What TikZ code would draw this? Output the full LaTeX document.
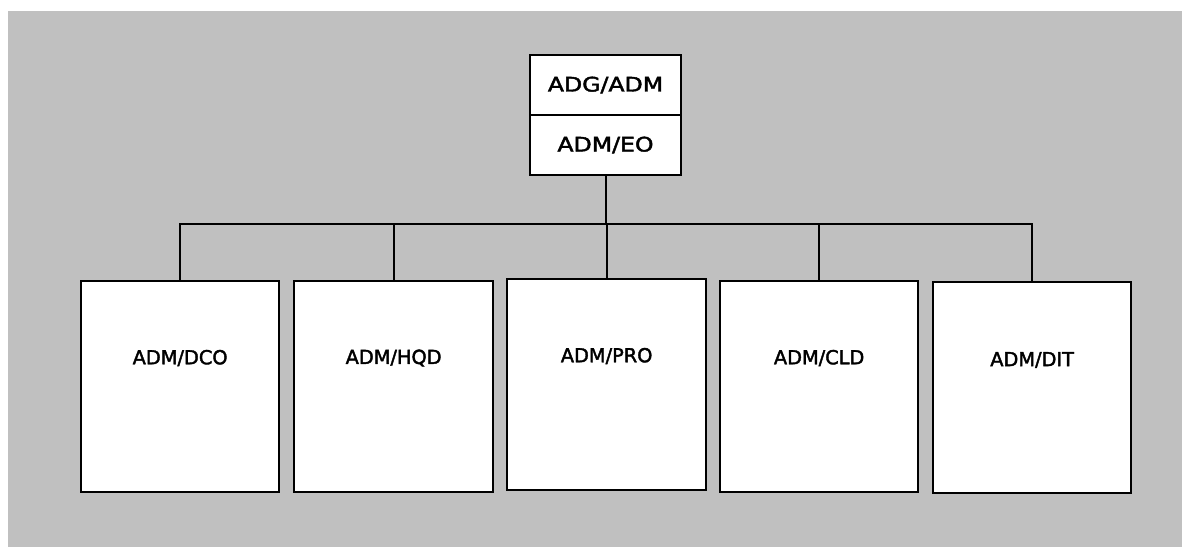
\documentclass[tikz,border=0pt]{standalone}
\usepackage{fontspec}
\setmainfont[FakeBold=2]{DejaVu Sans}
\begin{document}
\begin{tikzpicture}[x=0.75pt,y=-0.75pt,
  unitbox/.style={draw=black,fill=white,line width=1.7pt,inner sep=0pt,anchor=north west},
  headbox/.style={draw=black,fill=white,line width=1.1pt,inner sep=0pt,minimum width=113.25pt,minimum height=45pt,
    font=\fontsize{15}{17}\selectfont},
  unitlabel/.style={font=\fontsize{14.5}{17}\selectfont,inner sep=0pt},
  link/.style={line width=1.5pt}]
\useasboundingbox (0,0) rectangle (1182,547);
% background panel
\fill[fill={rgb,255:red,192;green,192;blue,192}] (8,11) rectangle (1182,547);

% head of the chart
\node[headbox] (adg) at (605.5,85) {\scalebox{1.18}[1]{ADG/ADM}};
\node[headbox] (eo) at (605.5,145) {\scalebox{1.18}[1]{ADM/EO}};

% unit boxes
\node[unitbox,minimum width=148.5pt,minimum height=158.25pt] (dco) at (80,280) {};
\node[unitbox,minimum width=149.25pt,minimum height=158.25pt] (hqd) at (293,280) {};
\node[unitbox,minimum width=149.25pt,minimum height=158.25pt] (pro) at (506,278) {};
\node[unitbox,minimum width=148.5pt,minimum height=158.25pt] (cld) at (719,280) {};
\node[unitbox,minimum width=148.5pt,minimum height=158.25pt] (dit) at (932,281) {};

\node[unitlabel] (tdco) at ([yshift=-58.5pt]dco.north) {ADM/DCO};
\node[unitlabel] (thqd) at ([yshift=-58.5pt]hqd.north) {ADM/HQD};
\node[unitlabel] (tpro) at ([yshift=-58.5pt]pro.north) {ADM/PRO};
\node[unitlabel] (tcld) at ([yshift=-58.5pt]cld.north) {ADM/CLD};
\node[unitlabel] (tdit) at ([yshift=-59.25pt]dit.north) {ADM/DIT};

% connectors
\coordinate (bar) at (eo.south |- 0,224);
\draw[link] (eo.south) -- (bar);
\foreach \u in {dco,hqd,pro,cld,dit}
  \draw[link] (bar) -| (\u.north);
\end{tikzpicture}
\end{document}
